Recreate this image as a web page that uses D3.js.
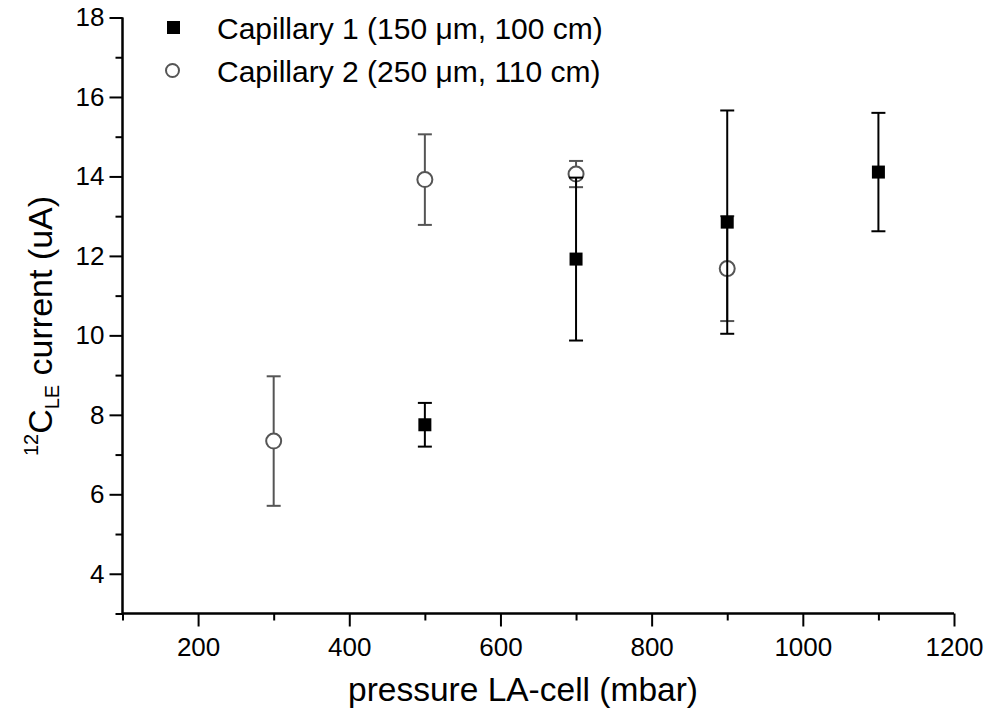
<!DOCTYPE html>
<html>
<head>
<meta charset="utf-8">
<script src="https://cdn.jsdelivr.net/npm/d3@7"></script>
<style>
  html, body { margin: 0; padding: 0; background: #fff; }
  svg { display: block; font-family: "Liberation Sans", Arial, sans-serif; }
</style>
</head>
<body>
<svg id="chart" width="987" height="714"></svg>
<script>
// Capillary 1 (150 µm, 100 cm)
const cap1Pressure = [500, 700, 900, 1100];
const cap1Current  = [7.75, 11.92, 12.85, 14.11];
const cap1Error    = [0.55, 2.05, 2.81, 1.49];

// Capillary 2 (250 µm, 110 cm)
const cap2Pressure = [300, 500, 700, 900];
const cap2Current  = [7.34, 13.92, 14.06, 11.68];
const cap2Error    = [1.63, 1.14, 0.33, 1.32];

const seriesNames = ["Capillary 1 (150 \u03bcm, 100 cm)", "Capillary 2 (250 \u03bcm, 110 cm)"];
const xTickValues = [200, 400, 600, 800, 1000, 1200];
const yTickValues = [4, 6, 8, 10, 12, 14, 16, 18];

const svg = d3.select("#chart");
const plotLeft = 122.5, plotRight = 954, plotTop = 17.5, plotBottom = 613.5;

const x = d3.scaleLinear().domain([100, 1200]).range([plotLeft, plotRight]);
const y = d3.scaleLinear().domain([3, 18]).range([plotBottom, plotTop]);

const grey = "#555555";

// axes: major ticks with labels, minor ticks between them
const xMinor = d3.range(100, 1201, 100).filter(v => !xTickValues.includes(v));
const yMinor = d3.range(3, 18, 1).filter(v => !yTickValues.includes(v));

const xAxisG = svg.append("g").attr("transform", `translate(0,${plotBottom})`);
xAxisG.call(d3.axisBottom(x).tickValues(xTickValues).tickSize(13).tickPadding(11).tickFormat(d3.format("d")));
xAxisG.append("g").call(d3.axisBottom(x).tickValues(xMinor).tickSize(7).tickFormat(""));

const yAxisG = svg.append("g").attr("transform", `translate(${plotLeft},0)`);
yAxisG.call(d3.axisLeft(y).tickValues(yTickValues).tickSize(13).tickPadding(5).tickFormat(d3.format("d")));
yAxisG.append("g").call(d3.axisLeft(y).tickValues(yMinor).tickSize(7).tickFormat(""));

svg.selectAll(".domain").attr("stroke", "#000").attr("stroke-width", 2);
svg.selectAll(".tick line").attr("stroke", "#000").attr("stroke-width", 2);
svg.selectAll(".tick text").attr("fill", "#000").attr("font-size", 26)
   .attr("font-family", "Liberation Sans, Arial, sans-serif");
xAxisG.selectAll(".domain").attr("d", `M${plotLeft},0H${plotRight}`);
yAxisG.selectAll(".domain").attr("d", `M0,${plotBottom}V${plotTop}`);

// axis titles
svg.append("text")
  .attr("x", 523).attr("y", 701)
  .attr("text-anchor", "middle")
  .attr("font-size", 33.5)
  .text("pressure LA-cell (mbar)");

const yTitle = svg.append("text")
  .attr("transform", `translate(52,326) rotate(-90)`)
  .attr("text-anchor", "middle")
  .attr("font-size", 34);
yTitle.append("tspan").attr("font-size", 20).attr("dy", -14).text("12");
yTitle.append("tspan").attr("dy", 14).text("C");
yTitle.append("tspan").attr("font-size", 20).attr("dy", 7).text("LE");
yTitle.append("tspan").attr("dy", -7).text(" current (uA)");

// series data rows
const cap1 = cap1Pressure.map((p, i) => ({ p, v: cap1Current[i], e: cap1Error[i] }));
const cap2 = cap2Pressure.map((p, i) => ({ p, v: cap2Current[i], e: cap2Error[i] }));

function errorBars(data, color, cls) {
  const g = svg.append("g").attr("class", cls)
    .attr("stroke", color).attr("stroke-width", 2).attr("fill", "none");
  g.selectAll("line.stem").data(data).join("line").attr("class", "stem")
    .attr("x1", d => x(d.p)).attr("x2", d => x(d.p))
    .attr("y1", d => y(d.v - d.e)).attr("y2", d => y(d.v + d.e));
  g.selectAll("line.capTop").data(data).join("line").attr("class", "capTop")
    .attr("x1", d => x(d.p) - 7).attr("x2", d => x(d.p) + 7)
    .attr("y1", d => y(d.v + d.e)).attr("y2", d => y(d.v + d.e));
  g.selectAll("line.capBot").data(data).join("line").attr("class", "capBot")
    .attr("x1", d => x(d.p) - 7).attr("x2", d => x(d.p) + 7)
    .attr("y1", d => y(d.v - d.e)).attr("y2", d => y(d.v - d.e));
}

// Capillary 2: open grey circles (drawn first)
errorBars(cap2, grey, "err2");
svg.append("g").selectAll("circle").data(cap2).join("circle")
  .attr("cx", d => x(d.p)).attr("cy", d => y(d.v)).attr("r", 7.5)
  .attr("fill", "#fff").attr("stroke", grey).attr("stroke-width", 2);

// Capillary 1: filled black squares
errorBars(cap1, "#000", "err1");
svg.append("g").selectAll("rect").data(cap1).join("rect")
  .attr("x", d => x(d.p) - 6.5).attr("y", d => y(d.v) - 6.5)
  .attr("width", 13).attr("height", 13).attr("fill", "#000");

// legend
const legend = svg.append("g");
legend.append("rect").attr("x", 167).attr("y", 21).attr("width", 13).attr("height", 13).attr("fill", "#000");
legend.append("circle").attr("cx", 172.5).attr("cy", 70.5).attr("r", 6.5)
  .attr("fill", "#fff").attr("stroke", grey).attr("stroke-width", 2);
legend.selectAll("text").data(seriesNames).join("text")
  .attr("x", 217).attr("y", (d, i) => 39 + i * 43)
  .attr("font-size", 30).attr("fill", "#000")
  .text(d => d);
</script>
</body>
</html>
